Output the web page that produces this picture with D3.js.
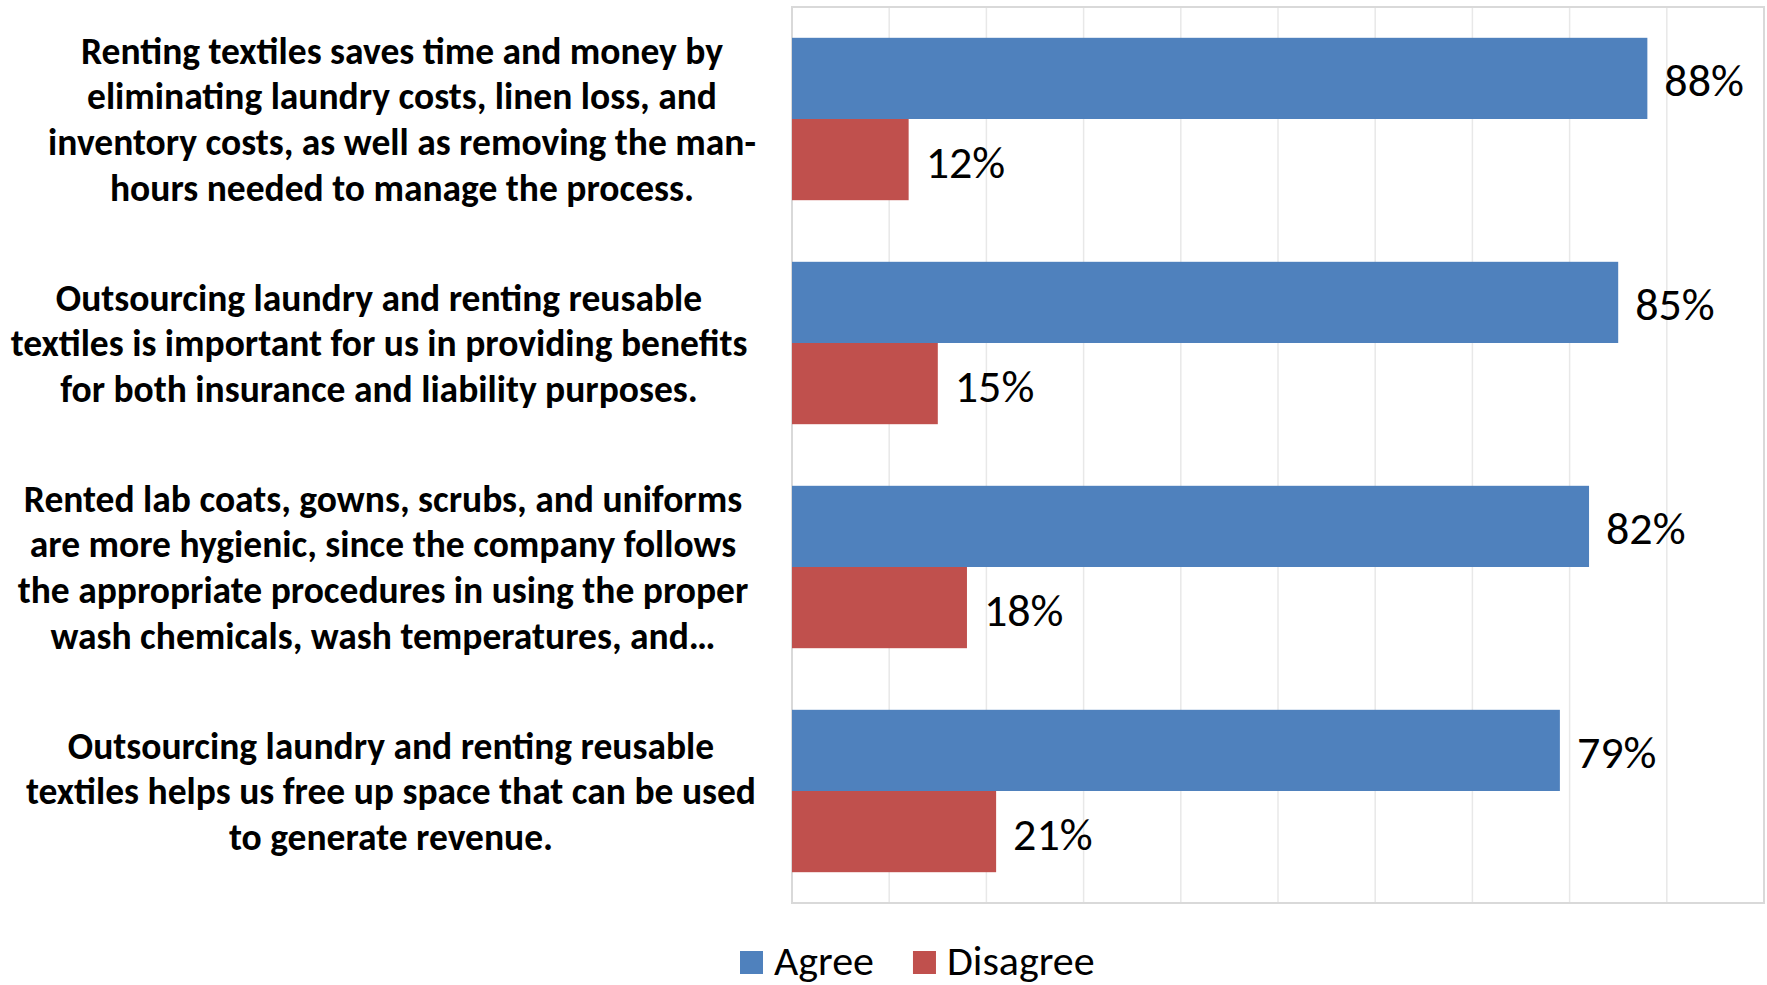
<!DOCTYPE html>
<html>
<head>
<meta charset="utf-8">
<script src="https://cdn.jsdelivr.net/npm/d3@7"></script>
<style>
  html, body { margin: 0; padding: 0; background: #fff; }
  svg { display: block; }
</style>
</head>
<body>
<svg id="chart" width="1767" height="985"></svg>
<script>
// Survey statements, each pre-wrapped into display lines
const categories = [
  ["Renting textiles saves time and money by",
   "eliminating laundry costs, linen loss, and",
   "inventory costs, as well as removing the man-",
   "hours needed to manage the process."],
  ["Outsourcing laundry and renting reusable",
   "textiles is important for us in providing benefits",
   "for both insurance and liability purposes."],
  ["Rented lab coats, gowns, scrubs, and uniforms",
   "are more hygienic, since the company follows",
   "the appropriate procedures in using the proper",
   "wash chemicals, wash temperatures, and…"],
  ["Outsourcing laundry and renting reusable",
   "textiles helps us free up space that can be used",
   "to generate revenue."]
];
const seriesNames = ["Agree", "Disagree"];
const agree = [0.88, 0.85, 0.82, 0.79];
const disagree = [0.12, 0.15, 0.18, 0.21];
const xTicks = [0, 0.1, 0.2, 0.3, 0.4, 0.5, 0.6, 0.7, 0.8, 0.9, 1.0];

const colors = { Agree: "#4F81BD", Disagree: "#C0504D" };
const fontFamily = "Carlito, Calibri, Lato, 'Open Sans', sans-serif";

const svg = d3.select("#chart");
const plot = { left: 792, right: 1764, top: 7, bottom: 903 };

const x = d3.scaleLinear().domain([0, 1]).range([plot.left, plot.right]);
const idx = d3.range(categories.length);
const y = d3.scaleBand().domain(idx).range([plot.top, plot.bottom])
  .paddingInner(0.275).paddingOuter(0.1375);
const ySub = d3.scaleBand().domain(seriesNames).range([0, y.bandwidth()]);

// vertical gridlines
svg.append("g")
  .selectAll("line")
  .data(xTicks.slice(1, -1))
  .join("line")
  .attr("x1", d => x(d)).attr("x2", d => x(d))
  .attr("y1", plot.top).attr("y2", plot.bottom)
  .attr("stroke", "#e8e8e8").attr("stroke-width", 1.5);

// plot border
svg.append("rect")
  .attr("x", plot.left).attr("y", plot.top)
  .attr("width", plot.right - plot.left).attr("height", plot.bottom - plot.top)
  .attr("fill", "none").attr("stroke", "#d9d9d9").attr("stroke-width", 2);

// bars
const rows = idx.map(i => ({ i, values: [
  { name: "Agree", v: agree[i] },
  { name: "Disagree", v: disagree[i] }
]}));

const groups = svg.append("g").selectAll("g")
  .data(rows).join("g")
  .attr("transform", d => `translate(0,${y(d.i)})`);

groups.selectAll("rect")
  .data(d => d.values).join("rect")
  .attr("x", x(0))
  .attr("y", d => ySub(d.name))
  .attr("width", d => x(d.v) - x(0))
  .attr("height", ySub.bandwidth())
  .attr("fill", d => colors[d.name]);

groups.selectAll("text.val")
  .data(d => d.values).join("text")
  .attr("class", "val")
  .attr("x", d => x(d.v) + 17)
  .attr("y", d => ySub(d.name) + ySub.bandwidth() / 2 + 2)
  .attr("dy", "0.35em")
  .attr("font-family", fontFamily)
  .attr("font-size", 46)
  .attr("fill", "#000")
  .text(d => d3.format(".0%")(d.v));

// category labels, each block centred on its own axis
const lineH = 45.6;
const labelX = [402, 379, 383, 391];
svg.append("g").selectAll("text")
  .data(idx).join("text")
  .attr("text-anchor", "middle")
  .attr("font-family", fontFamily)
  .attr("font-weight", "bold")
  .attr("font-size", 37.5)
  .attr("fill", "#000")
  .each(function(i) {
    const lines = categories[i];
    const cy = y(i) + y.bandwidth() / 2;
    const startY = cy - (lines.length - 1) * lineH / 2;
    d3.select(this).selectAll("tspan")
      .data(lines).join("tspan")
      .attr("x", labelX[i])
      .attr("y", (d, k) => startY + k * lineH)
      .attr("dy", "0.35em")
      .text(d => d);
  });

// legend
const legend = svg.append("g").attr("transform", "translate(740,951)");
let lx = 0;
seriesNames.forEach(name => {
  legend.append("rect")
    .attr("x", lx).attr("y", 0).attr("width", 23).attr("height", 23)
    .attr("fill", colors[name]);
  const t = legend.append("text")
    .attr("x", lx + 34).attr("y", 24)
    .attr("font-family", fontFamily)
    .attr("font-size", 42)
    .attr("fill", "#000")
    .text(name);
  lx += 34 + t.node().getComputedTextLength() + 39;
});
</script>
</body>
</html>
